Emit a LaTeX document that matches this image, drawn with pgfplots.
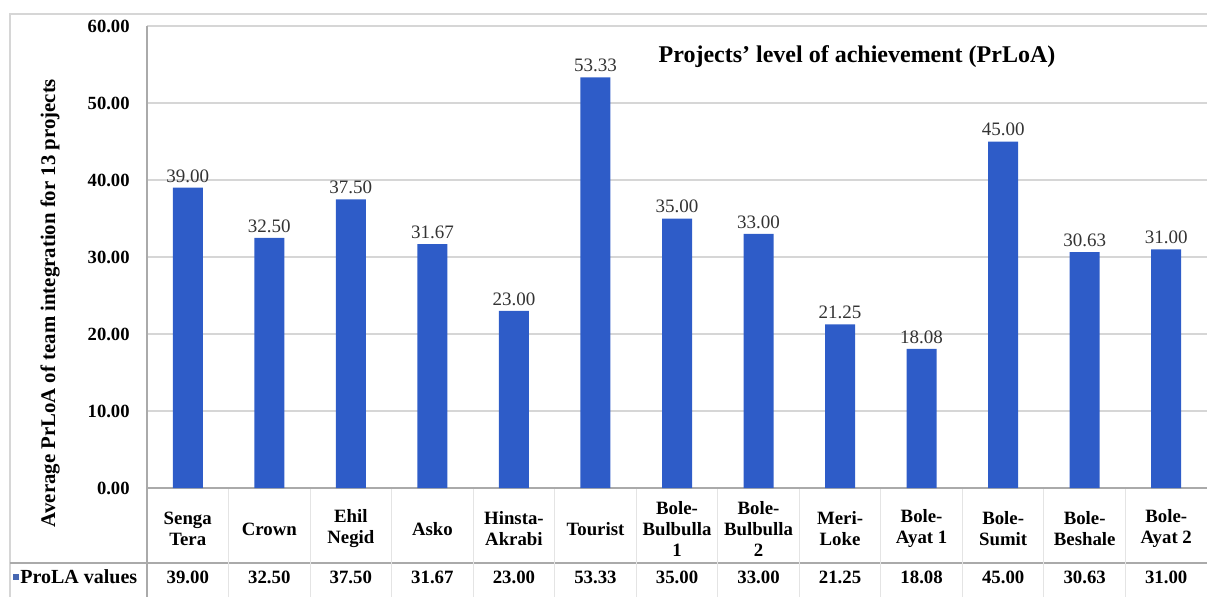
\documentclass[border=0pt]{standalone}
\usepackage{fontspec}
\setmainfont{Liberation Serif}
\usepackage{pgfplots}
\usepackage{pgfplotstable}
\pgfplotsset{compat=1.18}

\definecolor{barblue}{RGB}{46,92,200}
\definecolor{gridgray}{RGB}{214,214,214}
\definecolor{sepgray}{RGB}{228,228,228}
\definecolor{linegray}{RGB}{170,170,170}

% x = category index, y = PrLoA value
\pgfplotstableread{
x y
0 39.00
1 32.50
2 37.50
3 31.67
4 23.00
5 53.33
6 35.00
7 33.00
8 21.25
9 18.08
10 45.00
11 30.63
12 31.00
}\prloa

\begin{document}
\begin{tikzpicture}
\path[use as bounding box] (-73.5pt,-54pt) rectangle (530pt,244pt);
% outer chart frame
\draw[gridgray, line width=0.8pt] (-68.5pt,-60pt) -- (-68.5pt,237pt) -- (540pt,237pt);
% data table rules
\draw[linegray, line width=0.6pt] (-68.5pt,-37.5pt) -- (540pt,-37.5pt);
\draw[linegray, line width=0.6pt] (0pt,0pt) -- (0pt,-60pt);
\foreach \b in {1,...,12} {
  \draw[sepgray, line width=0.5pt] (\b*40.769pt,0pt) -- (\b*40.769pt,-60pt);
}
\begin{axis}[
  at={(0,0)}, anchor=south west,
  scale only axis, width=530pt, height=231pt,
  clip=false,
  xmin=-0.5, xmax=12.5, ymin=0, ymax=60,
  ytick={0,10,...,60},
  xtick={0,...,12},
  xticklabels={{Senga\\Tera}, Crown, {Ehil\\Negid}, Asko, {Hinsta-\\Akrabi}, Tourist,
    {Bole-\\Bulbulla\\1}, {Bole-\\Bulbulla\\2}, {Meri-\\Loke}, {Bole-\\Ayat 1},
    {Bole-\\Sumit}, {Bole-\\Beshale}, {Bole-\\Ayat 2}},
  xticklabel style={font=\fontsize{9.4}{10.5}\selectfont\bfseries, align=center,
    anchor=center, yshift=-20.5pt, inner sep=0pt},
  yticklabel style={font=\fontsize{9.3}{11}\selectfont\bfseries, anchor=east,
    inner sep=0pt, xshift=-8.5pt},
  ymajorgrids, grid style={gridgray, line width=0.6pt},
  axis x line*=bottom, axis y line*=left,
  axis line style={linegray, line width=0.6pt},
  major tick length=0pt,
  /pgf/number format/fixed,
  /pgf/number format/fixed zerofill,
  /pgf/number format/precision=2,
  /pgf/number format/assume math mode=true,
]
\addplot[ybar, bar width=15pt, bar shift=0pt, fill=barblue, draw=none,
  nodes near coords,
  every node near coord/.append style={font=\fontsize{9.5}{11}\selectfont,
    text=black!80, inner sep=2.5pt}]
  table[x=x, y=y] {\prloa};
% values row of the data table
\addplot[draw=none, mark=none,
  nodes near coords,
  point meta=explicit,
  every node near coord/.append style={font=\fontsize{9.4}{11}\selectfont\bfseries,
    anchor=center, inner sep=0pt}]
  table[x=x, y expr=-11.56, meta=y] {\prloa};
\end{axis}
\node[font=\fontsize{12}{14}\selectfont\bfseries] at (355pt,215.5pt)
  {Projects' level of achievement (PrLoA)};
\node[font=\fontsize{10.4}{12}\selectfont\bfseries, rotate=90] at (-48.5pt,92.5pt)
  {Average PrLoA of team integration for 13 projects};
\fill[barblue!70!gray] (-67pt,-46pt) rectangle ++(3pt,3pt);
\node[font=\fontsize{10}{12}\selectfont\bfseries, anchor=west, inner sep=0pt]
  at (-63.5pt,-44.5pt) {ProLA values};
\end{tikzpicture}
\end{document}
